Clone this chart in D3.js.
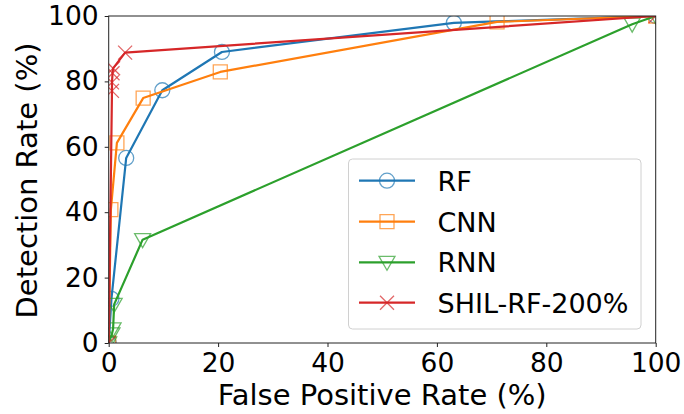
<!DOCTYPE html>
<html>
<head>
<meta charset="utf-8">
<script src="https://cdn.jsdelivr.net/npm/d3@7"></script>
<style>
  body { margin: 0; background: #fff; }
  text { font-family: "DejaVu Sans", sans-serif; fill: #000; }
</style>
</head>
<body>
<div id="chart"></div>
<script>
// series names
var seriesNames = ["RF", "CNN", "RNN", "SHIL-RF-200%"];

// ROC points: [false positive rate, detection rate]
var rfPoints = [[0, 0], [0.5, 13.5], [3.2, 56.6], [9.8, 77.3], [20.7, 89.0], [63.1, 97.9], [100, 100]];
var cnnPoints = [[0, 0], [0.4, 40.8], [1.5, 61.2], [6.3, 74.9], [20.4, 82.9], [71.0, 98.2], [100, 100]];
var rnnPoints = [[0, 0], [0.6, 2.8], [0.8, 4.3], [1.0, 11.8], [6.2, 31.6], [95.7, 97.5], [100, 100]];
var shilPoints = [[0, 0], [0.6, 77.1], [0.6, 79.7], [0.7, 82.5], [0.8, 84.0], [3.0, 88.8], [100, 100]];

var xTicks = [0, 20, 40, 60, 80, 100];
var yTicks = [0, 20, 40, 60, 80, 100];

function init() {
  var W = 684, H = 414;
  var left = 108.7, top = 16, right = 655.7, bottom = 343;

  var colors = ["#1f77b4", "#ff7f0e", "#2ca02c", "#d62728"];
  var markers = ["circle", "square", "triangle", "cross"];
  var allPoints = [rfPoints, cnnPoints, rnnPoints, shilPoints];

  var x = d3.scaleLinear().domain([0, 100]).range([left, right]);
  var y = d3.scaleLinear().domain([0, 100]).range([bottom, top]);

  var svg = d3.select("#chart").append("svg")
    .attr("width", W).attr("height", H);

  svg.append("defs").append("clipPath").attr("id", "clip")
    .append("rect")
    .attr("x", left).attr("y", top)
    .attr("width", right - left).attr("height", bottom - top);

  // marker path generator
  function markerPath(kind) {
    if (kind === "circle") return d3.symbol().type(d3.symbolCircle).size(Math.PI * 7.5 * 7.5)();
    if (kind === "square") return "M-7,-7L7,-7L7,7L-7,7Z";
    if (kind === "triangle") return "M-8,-6L8,-6L0,8Z";
    return "M-7,-7L7,7M-7,7L7,-7";
  }

  var line = d3.line()
    .x(function(d) { return x(d[0]); })
    .y(function(d) { return y(d[1]); });

  var plot = svg.append("g").attr("clip-path", "url(#clip)");

  allPoints.forEach(function(pts, i) {
    var g = plot.append("g");
    g.append("path")
      .attr("d", line(pts))
      .attr("fill", "none")
      .attr("stroke", colors[i])
      .attr("stroke-width", 2.2)
      .attr("stroke-linejoin", "round");
    g.selectAll("path.mk")
      .data(pts)
      .enter()
      .append("path")
      .attr("class", "mk")
      .attr("d", markerPath(markers[i]))
      .attr("transform", function(d) { return "translate(" + x(d[0]) + "," + y(d[1]) + ")"; })
      .attr("fill", "none")
      .attr("stroke", colors[i])
      .attr("stroke-opacity", 0.7)
      .attr("stroke-width", 1.3);
  });

  // frame
  svg.append("rect")
    .attr("x", left).attr("y", top)
    .attr("width", right - left).attr("height", bottom - top)
    .attr("fill", "none").attr("stroke", "#222").attr("stroke-width", 1);

  // x axis
  var xAxis = svg.append("g")
    .attr("transform", "translate(0," + bottom + ")")
    .call(d3.axisBottom(x).tickValues(xTicks).tickSize(4).tickPadding(6));
  xAxis.select(".domain").remove();
  xAxis.selectAll("line").attr("stroke", "#222");
  xAxis.selectAll("text")
    .style("font-family", "DejaVu Sans")
    .style("font-size", "26.5px")
    .attr("fill", "#000");

  // y axis
  var yAxis = svg.append("g")
    .attr("transform", "translate(" + left + ",0)")
    .call(d3.axisLeft(y).tickValues(yTicks).tickSize(4).tickPadding(6));
  yAxis.select(".domain").remove();
  yAxis.selectAll("line").attr("stroke", "#222");
  yAxis.selectAll("text")
    .style("font-family", "DejaVu Sans")
    .style("font-size", "26.5px")
    .attr("fill", "#000");

  // axis titles
  svg.append("text")
    .attr("x", (left + right) / 2)
    .attr("y", 405)
    .attr("text-anchor", "middle")
    .style("font-size", "29px")
    .text("False Positive Rate (%)");

  svg.append("text")
    .attr("transform", "translate(37," + ((top + bottom) / 2 + 1) + ") rotate(-90)")
    .attr("text-anchor", "middle")
    .style("font-size", "29px")
    .text("Detection Rate (%)");

  // legend
  var lg = svg.append("g");
  lg.append("rect")
    .attr("x", 348.5).attr("y", 159)
    .attr("width", 292.5).attr("height", 170)
    .attr("rx", 4)
    .attr("fill", "#fff").attr("fill-opacity", 0.8)
    .attr("stroke", "#d0d0d0").attr("stroke-width", 1);

  var rowY = [180.7, 221.7, 262.3, 302.7];
  seriesNames.forEach(function(name, i) {
    var ry = rowY[i];
    lg.append("line")
      .attr("x1", 359).attr("x2", 415)
      .attr("y1", ry).attr("y2", ry)
      .attr("stroke", colors[i]).attr("stroke-width", 2.2);
    lg.append("path")
      .attr("d", markerPath(markers[i]))
      .attr("transform", "translate(387," + ry + ")")
      .attr("fill", "none")
      .attr("stroke", colors[i])
      .attr("stroke-opacity", 0.7)
      .attr("stroke-width", 1.3);
    lg.append("text")
      .attr("x", 437.5)
      .attr("y", ry + 9.8)
      .style("font-size", "27px")
      .text(name);
  });
}
window.onload = init;
</script>
</body>
</html>
